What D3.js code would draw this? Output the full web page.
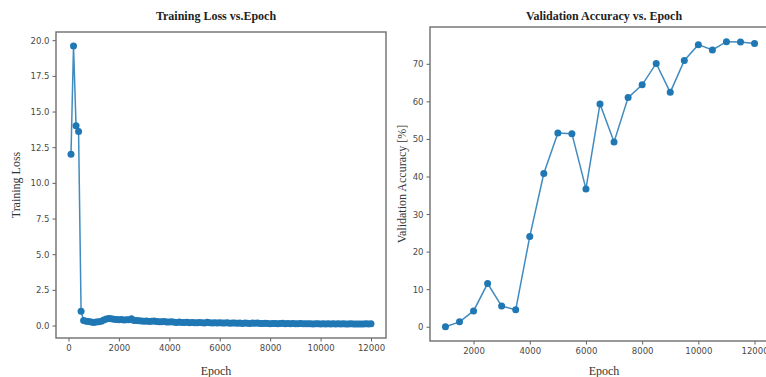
<!DOCTYPE html>
<html>
<head>
<meta charset="utf-8">
<script src="https://d3js.org/d3.v7.min.js"></script>
<style>
  html, body { margin: 0; padding: 0; background: #fff; }
  svg { display: block; }
  .tick text { font-family: "DejaVu Sans Condensed", "DejaVu Sans", sans-serif; font-size: 9.5px; fill: #4a4a4a; }
  .tick line { stroke: #606060; }
  .title { font-family: "Liberation Serif", "Times New Roman", serif; font-size: 12px; font-weight: bold; fill: #222; }
  .label { font-family: "Liberation Serif", "Times New Roman", serif; font-size: 12px; fill: #333; }
</style>
</head>
<body>
<svg width="766" height="377"></svg>
<script>
// training loss, one point every 100 epochs from 100 to 12000
const lossEpochs = d3.range(100, 12001, 100);
const lossValues = [
  12.0, 19.6, 14.0, 13.6, 1.0,
  0.35, 0.30, 0.28, 0.25, 0.22, 0.24, 0.26, 0.30, 0.38, 0.45,
  0.50, 0.48, 0.44, 0.42, 0.40, 0.43, 0.38, 0.41, 0.40, 0.47,
  0.36, 0.35, 0.33, 0.32, 0.30, 0.31, 0.28, 0.30, 0.32, 0.29,
  0.27, 0.26, 0.28, 0.25, 0.24, 0.26, 0.23, 0.22, 0.24, 0.22,
  0.21, 0.23, 0.20, 0.22, 0.20, 0.19, 0.21, 0.20, 0.18, 0.23,
  0.19, 0.18, 0.20, 0.17, 0.19, 0.18, 0.17, 0.19, 0.16, 0.18,
  0.17, 0.16, 0.18, 0.15, 0.17, 0.16, 0.15, 0.17, 0.16, 0.18,
  0.15, 0.14, 0.16, 0.15, 0.13, 0.15, 0.14, 0.13, 0.15, 0.16,
  0.13, 0.14, 0.12, 0.14, 0.13, 0.12, 0.14, 0.12, 0.13, 0.12,
  0.13, 0.11, 0.12, 0.13, 0.11, 0.12, 0.11, 0.13, 0.11, 0.12,
  0.11, 0.12, 0.10, 0.12, 0.11, 0.10, 0.12, 0.10, 0.11, 0.10,
  0.11, 0.10, 0.12, 0.10, 0.12
];

// validation accuracy, every 500 epochs
const accEpochs = [1000, 1500, 2000, 2500, 3000, 3500, 4000, 4500, 5000, 5500, 6000, 6500,
  7000, 7500, 8000, 8500, 9000, 9500, 10000, 10500, 11000, 11500, 12000];
const accValues = [0, 1.3, 4.2, 11.5, 5.5, 4.5, 24.0, 40.8, 51.6, 51.4, 36.7, 59.3,
  49.2, 61.0, 64.4, 70.1, 62.4, 70.9, 75.1, 73.7, 75.9, 75.8, 75.4];

const lossTicksY = [0, 2.5, 5, 7.5, 10, 12.5, 15, 17.5, 20];
const epochTicksLeft = [0, 2000, 4000, 6000, 8000, 10000, 12000];
const accTicksY = [0, 10, 20, 30, 40, 50, 60, 70];
const epochTicksRight = [2000, 4000, 6000, 8000, 10000, 12000];

const svg = d3.select("svg");
const blue = "#1f77b4";

function panel(cfg) {
  const g = svg.append("g");
  const x = d3.scaleLinear().domain(cfg.xDomain).range([cfg.left, cfg.right]);
  const y = d3.scaleLinear().domain(cfg.yDomain).range([cfg.bottom, cfg.top]);

  g.append("g")
    .attr("transform", `translate(0,${cfg.bottom})`)
    .call(d3.axisBottom(x).tickValues(cfg.xTicks).tickFormat(d3.format("d")).tickSize(3.5).tickPadding(3))
    .call(a => a.select(".domain").remove());
  g.append("g")
    .attr("transform", `translate(${cfg.left},0)`)
    .call(d3.axisLeft(y).tickValues(cfg.yTicks).tickFormat(cfg.yFormat).tickSize(3.5).tickPadding(3))
    .call(a => a.select(".domain").remove());

  // frame
  g.append("rect")
    .attr("x", cfg.left).attr("y", cfg.top)
    .attr("width", cfg.right - cfg.left).attr("height", cfg.bottom - cfg.top)
    .attr("fill", "none").attr("stroke", "#6e6e6e").attr("stroke-width", 1.4);

  const pts = cfg.xs.map((e, i) => [e, cfg.ys[i]]);
  g.append("path")
    .datum(pts)
    .attr("fill", "none")
    .attr("stroke", blue)
    .attr("stroke-opacity", 0.85)
    .attr("stroke-width", 1.5)
    .attr("d", d3.line().x(d => x(d[0])).y(d => y(d[1])));
  g.append("g").selectAll("circle")
    .data(pts).enter().append("circle")
    .attr("cx", d => x(d[0])).attr("cy", d => y(d[1]))
    .attr("r", 3.5)
    .attr("fill", blue);

  g.append("text").attr("class", "title")
    .attr("x", cfg.titleX).attr("y", 20).attr("text-anchor", "middle").text(cfg.title);
  g.append("text").attr("class", "label")
    .attr("x", cfg.titleX).attr("y", 375).attr("text-anchor", "middle").text("Epoch");
  g.append("text").attr("class", "label")
    .attr("transform", `translate(${cfg.yLabelX},${(cfg.top + cfg.bottom) / 2}) rotate(-90)`)
    .attr("text-anchor", "middle").text(cfg.yLabel);
}

panel({
  xs: lossEpochs, ys: lossValues,
  xDomain: [-495, 12595], yDomain: [-0.875, 20.575],
  left: 56, right: 386, top: 32, bottom: 338,
  xTicks: epochTicksLeft, yTicks: lossTicksY, yFormat: d3.format(".1f"),
  title: "Training Loss vs.Epoch", titleX: 216, yLabel: "Training Loss", yLabelX: 20
});

panel({
  xs: accEpochs, ys: accValues,
  xDomain: [450, 12550], yDomain: [-3.8, 79.8],
  left: 430, right: 770, top: 27, bottom: 341,
  xTicks: epochTicksRight, yTicks: accTicksY, yFormat: d3.format("d"),
  title: "Validation Accuracy vs. Epoch", titleX: 604, yLabel: "Validation Accuracy [%]", yLabelX: 406
});
</script>
</body>
</html>
